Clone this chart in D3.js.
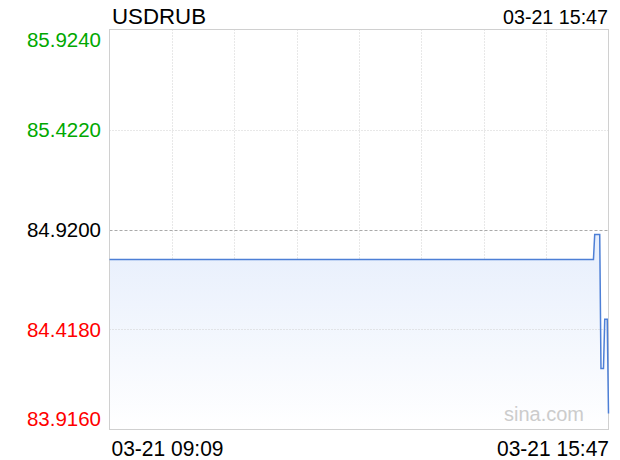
<!DOCTYPE html>
<html><head><meta charset="utf-8">
<script src="https://cdn.jsdelivr.net/npm/d3@7"></script>
<style>html,body{margin:0;padding:0;background:#fff;}svg{display:block;font-family:"Liberation Sans",Arial,sans-serif;}</style>
</head><body>
<svg id="c" width="620" height="460"></svg>
<script>
const title = "USDRUB";
const startLabel = "03-21 09:09";
const endLabel = "03-21 15:47";
const times = ["09:09","15:35","15:36","15:40","15:41","15:43","15:44","15:46","15:47"];
const prices = [84.770,84.770,84.895,84.895,84.222,84.222,84.470,84.470,83.996];
const yTicks = [85.924,85.422,84.920,84.418,83.916];
const prevClose = 84.920;
const xGridCount = 8;

const toMin = s => { const [h,m] = s.split(":").map(Number); return h*60+m; };
const data = times.map((t,i)=>({t:toMin(t), v:prices[i]}));

const L=109.5, R=608.5, T=29.5, B=429.5;
const svg = d3.select("#c");
const x = d3.scaleLinear().domain([toMin("09:09"), toMin("15:47")]).range([L,R]);
const y = d3.scaleLinear().domain([yTicks[4], yTicks[0]]).range([B,T]);

const defs = svg.append("defs");
const g = defs.append("linearGradient").attr("id","fillg")
  .attr("gradientUnits","userSpaceOnUse").attr("x1",0).attr("x2",0).attr("y1",y(84.9)).attr("y2",B);
g.append("stop").attr("offset",0).attr("stop-color","#e6eefc");
g.append("stop").attr("offset",1).attr("stop-color","#ffffff");

// vertical grid
const xg = d3.range(1,xGridCount).map(i=>L+(R-L)*i/xGridCount);
svg.append("g").selectAll("line").data(xg).join("line")
  .attr("x1",d=>Math.round(d)+0.5).attr("x2",d=>Math.round(d)+0.5).attr("y1",T).attr("y2",B)
  .attr("stroke","#d0d0d0").attr("stroke-dasharray","1,2");

// area
const area = d3.area().x(d=>x(d.t)).y0(B).y1(d=>y(d.v));
svg.append("path").datum(data).attr("d",area).attr("fill","url(#fillg)");

// horizontal grid
svg.append("g").selectAll("line").data(yTicks.slice(1,4)).join("line")
  .attr("x1",L).attr("x2",R).attr("y1",d=>Math.round(y(d))+0.5).attr("y2",d=>Math.round(y(d))+0.5)
  .attr("stroke",d=>d===prevClose?"#aaaaaa":"#d0d0d0")
  .attr("stroke-dasharray",d=>d===prevClose?"3,2":"1,2");

// border
svg.append("rect").attr("x",L).attr("y",T).attr("width",R-L).attr("height",B-T)
  .attr("fill","none").attr("stroke","#d0d0d0");

// watermark
svg.append("text").attr("x",584).attr("y",421).attr("text-anchor","end")
  .attr("font-size",20).attr("fill","#cccccc").text("sina.com");

// line (drawn above border so the last segment shows)
const line = d3.line().x(d=>x(d.t)).y(d=>y(d.v));
svg.append("path").datum(data).attr("d",line).attr("fill","none")
  .attr("stroke","#4d7fd6").attr("stroke-width",1.5).attr("stroke-linejoin","miter");

// y labels
const yColor = d => d>prevClose?"#00a800":(d<prevClose?"#ff0000":"#000000");
svg.append("g").selectAll("text").data(yTicks).join("text")
  .attr("x",101).attr("text-anchor","end").attr("font-size",20.5)
  .attr("y",(d,i)=> i===0 ? 46.5 : (i===4 ? 426 : y(d)+7))
  .attr("fill",yColor).text(d=>d.toFixed(4));

// title & dates
svg.append("text").attr("x",112).attr("y",23.5).attr("font-size",22).attr("fill","#000")
  .attr("textLength",94).attr("lengthAdjust","spacingAndGlyphs").text(title);
svg.append("text").attr("x",503).attr("y",24).attr("font-size",20).attr("fill","#000")
  .attr("textLength",105).attr("lengthAdjust","spacingAndGlyphs").text(endLabel);
svg.append("text").attr("x",111.5).attr("y",456).attr("font-size",22).attr("fill","#000")
  .attr("textLength",112).attr("lengthAdjust","spacingAndGlyphs").text(startLabel);
svg.append("text").attr("x",497).attr("y",456).attr("font-size",22).attr("fill","#000")
  .attr("textLength",112).attr("lengthAdjust","spacingAndGlyphs").text(endLabel);
</script>
</body></html>
